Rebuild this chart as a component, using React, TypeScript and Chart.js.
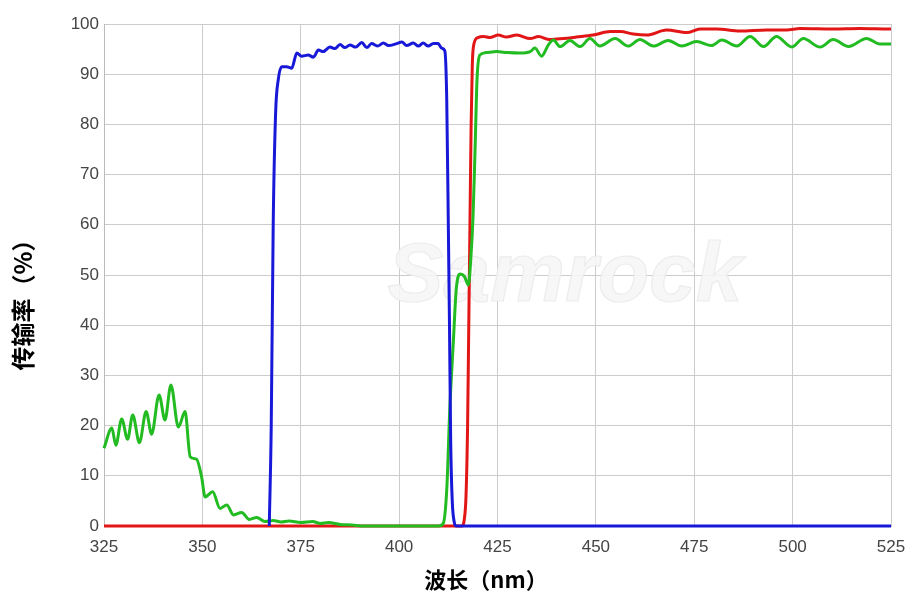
import React, { useEffect, useRef } from "react";
import { Chart, registerables } from "chart.js";

Chart.register(...registerables);

const xTicks = [325, 350, 375, 400, 425, 450, 475, 500, 525];
const yTicks = [0, 10, 20, 30, 40, 50, 60, 70, 80, 90, 100];

const blueWl = [367, 367.5, 368, 368.6, 369.3, 370.2, 371.4, 372.7, 374, 375.2, 376.9, 378.2, 379.5, 380.7, 382.4, 383.7, 385, 386.2, 387.5, 389, 390.5, 391.8, 393, 394.5, 396, 397.3, 399.4, 400.7, 401.9, 403.6, 404.9, 406.1, 407.4, 408.7, 409.9, 410.8, 411.6, 412.1, 412.5, 412.8, 413.1, 413.5, 414, 414.5, 416, 525];
const blueT = [0, 20, 60, 82, 89, 91.5, 91.5, 91.2, 94.2, 93.6, 93.8, 93.4, 94.8, 94.5, 95.4, 95.1, 95.9, 95.3, 95.8, 95.4, 96.3, 95.3, 96.1, 95.6, 96.2, 95.7, 96.1, 96.4, 95.7, 96.2, 95.6, 96.2, 95.6, 96.1, 96.1, 95.2, 94.7, 85, 60, 40, 17, 5, 0.8, 0, 0, 0];

const greenWl = [325, 327, 328, 329.5, 331, 332.3, 334, 335.7, 337.1, 339, 340.5, 342, 343.9, 345.6, 346.9, 348.5, 349.8, 350.7, 352.6, 354.5, 356.2, 357.9, 360, 361.9, 363.8, 365.9, 368, 370, 372, 375, 378, 380, 382, 385, 388, 391, 395, 400, 405, 410, 411.2, 412.1, 412.9, 413.8, 414.5, 415.5, 416.6, 417.6, 418.2, 418.8, 419.3, 419.8, 420.5, 422, 424.8, 427.5, 430.7, 433.3, 434.5, 436.2, 437.9, 439.2, 440.9, 443.4, 446, 448.5, 451, 454.9, 458.2, 461.2, 464.6, 468.4, 471.8, 475.6, 479.4, 482, 485.8, 489.2, 492.6, 495.9, 499.8, 502.7, 507, 510.3, 514.2, 518.8, 522.2, 525];
const greenT = [15.5, 19.5, 16.1, 21.3, 17.3, 22.1, 16.6, 22.8, 18.3, 26.1, 21.1, 28.1, 19.7, 22.8, 13.8, 13.3, 9.8, 5.8, 6.8, 3.5, 4.2, 2.2, 2.7, 1.3, 1.7, 0.9, 1.1, 0.8, 1.0, 0.7, 0.9, 0.5, 0.7, 0.3, 0.2, 0, 0, 0, 0, 0, 0.5, 7.2, 23.8, 37, 47, 50.2, 49.7, 48, 53, 62, 75, 89, 93.8, 94.3, 94.5, 94.3, 94.2, 94.5, 95.2, 93.6, 95.8, 96.8, 95.5, 96.7, 95.5, 97.1, 95.6, 97.1, 95.6, 96.9, 95.6, 96.7, 95.6, 96.5, 95.7, 96.8, 95.6, 97.5, 95.5, 97.5, 95.4, 97.1, 95.4, 96.9, 95.5, 97.1, 96.0, 96.0];

const redWl = [325, 416, 416.5, 417, 417.4, 417.7, 418, 418.3, 418.6, 419, 420, 421.5, 423, 425.2, 427.3, 429.9, 433.3, 435.4, 438.3, 441.7, 445.1, 449.3, 453.7, 456.2, 459.5, 462.9, 468, 473.1, 476.5, 480.7, 486.6, 493.4, 498.5, 501.9, 510.3, 517, 524.7, 525];
const redT = [0, 0, 1, 6, 20, 40, 60, 80, 92, 96, 97.3, 97.5, 97.3, 97.8, 97.4, 97.8, 97.1, 97.5, 96.9, 97.1, 97.4, 97.8, 98.5, 98.5, 98, 97.8, 98.8, 98.3, 99, 99, 98.6, 98.8, 98.8, 99.1, 99, 99.1, 99, 99];

const xTitle = "波长（nm）";
const yTitle = "传输率（%）";
const watermark = "Samrock";

const toPts = (xs: number[], ys: number[]) => xs.map((x, i) => ({ x, y: ys[i] }));

export default function App() {
  const ref = useRef<HTMLCanvasElement | null>(null);
  useEffect(() => {
    if (!ref.current) return;
    const titlePlugin = {
      id: "titles",
      beforeDatasetsDraw(chart: any) {
        const { ctx } = chart;
        ctx.save();
        ctx.font = "italic bold 84px 'Liberation Sans', Arial, sans-serif";
        ctx.textAlign = "center";
        ctx.textBaseline = "middle";
        ctx.fillStyle = "rgba(246,246,246,0.9)";
        ctx.strokeStyle = "rgba(232,232,232,0.8)";
        ctx.lineWidth = 1.2;
        const cx = 565;
        const cy = 278;
        ctx.fillText(watermark, cx, cy);
        ctx.strokeText(watermark, cx, cy);
        ctx.restore();
      },
      afterDraw(chart: any) {
        const { ctx } = chart;
        ctx.save();
        ctx.fillStyle = "#000";
        ctx.font = "bold 22px 'Noto Sans CJK SC', sans-serif";
        ctx.textAlign = "center";
        ctx.textBaseline = "middle";
        ctx.fillText(xTitle, 486, 580);
        ctx.font = "bold 24px 'Noto Sans CJK SC', sans-serif";
        ctx.translate(23, 299);
        ctx.rotate(-Math.PI / 2);
        ctx.fillText(yTitle, 0, 0);
        ctx.restore();
      },
    };
    const chart = new Chart(ref.current, {
      type: "line",
      data: {
        datasets: [
          { data: toPts(blueWl, blueT), borderColor: "#1818d8", borderWidth: 3, pointRadius: 0, cubicInterpolationMode: "monotone", clip: 4 } as any,
          { data: toPts(greenWl, greenT), borderColor: "#22bb22", borderWidth: 3, pointRadius: 0, cubicInterpolationMode: "monotone", clip: 4 } as any,
          { data: toPts(redWl, redT), borderColor: "#e21616", borderWidth: 3, pointRadius: 0, cubicInterpolationMode: "monotone", clip: 4 } as any,
        ],
      },
      options: {
        responsive: false,
        animation: false,
        events: [],
        layout: { padding: { left: 0, right: 18, top: 24, bottom: 0 } },
        plugins: { legend: { display: false }, tooltip: { enabled: false } },
        scales: {
          x: {
            type: "linear",
            min: 325,
            max: 525,
            afterBuildTicks: (s: any) => { s.ticks = xTicks.map((v) => ({ value: v })); },
            afterFit: (s: any) => { s.height = 67; s.paddingLeft = 0; s.paddingRight = 0; },
            grid: { color: "#cccccc", lineWidth: 1, drawTicks: false },
            border: { display: true, color: "#bbbbbb" },
            ticks: { padding: 11, color: "#444", font: { family: "'Liberation Sans', Arial, sans-serif", size: 17 }, maxRotation: 0, autoSkip: false },
          },
          y: {
            type: "linear",
            min: 0,
            max: 100,
            afterBuildTicks: (s: any) => { s.ticks = yTicks.map((v) => ({ value: v })); },
            afterFit: (s: any) => { s.width = 104; s.paddingTop = 0; s.paddingBottom = 0; },
            grid: { color: "#cccccc", lineWidth: 1, drawTicks: false },
            border: { display: true, color: "#bbbbbb" },
            ticks: { padding: 5, color: "#444", font: { family: "'Liberation Sans', Arial, sans-serif", size: 17 } },
          },
        },
      } as any,
      plugins: [titlePlugin],
    });
    return () => chart.destroy();
  }, []);
  return (
    <div style={{ position: "fixed", left: 0, top: 0, width: 909, height: 593, background: "#fff" }}>
      <canvas ref={ref} width={909} height={593} />
    </div>
  );
}
